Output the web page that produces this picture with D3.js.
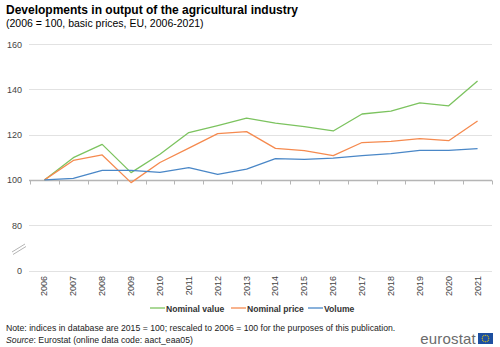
<!DOCTYPE html>
<html>
<head>
<meta charset="utf-8">
<script src="https://cdn.jsdelivr.net/npm/d3@7"></script>
<style>
body { margin: 0; background: #fff; }
text { font-family: "Liberation Sans", Arial, sans-serif; }
</style>
</head>
<body>
<svg width="500" height="347"></svg>
<script>
// data (2006 = 100)
var years = ["2006","2007","2008","2009","2010","2011","2012","2013","2014","2015","2016","2017","2018","2019","2020","2021"];
var nominalValue = [100, 109.8, 115.7, 103.2, 111.3, 120.9, 124.0, 127.3, 125.1, 123.5, 121.6, 129.1, 130.4, 134.0, 132.7, 143.7];
var nominalPrice = [100, 108.6, 111.0, 98.8, 107.7, 114.0, 120.4, 121.3, 113.9, 112.9, 110.7, 116.5, 117.0, 118.2, 117.3, 126.0];
var volume = [100, 100.7, 104.2, 104.2, 103.3, 105.4, 102.4, 104.8, 109.4, 109.1, 109.6, 110.7, 111.6, 113.0, 113.0, 113.8];
var yTicks = [160, 140, 120, 100, 80];

var series = [
    {name: "Nominal value", values: nominalValue, color: "#7cc35f"},
    {name: "Nominal price", values: nominalPrice, color: "#f58a4f"},
    {name: "Volume", values: volume, color: "#4a87c7"}
];

var svg = d3.select("svg");

var x = d3.scaleBand().domain(years).range([30, 492]);
// broken axis: the "0" line sits where 60 would be
var y = d3.scaleLinear().domain([60, 160]).range([270.5, 44]);

svg.append("text")
    .attr("x", 6).attr("y", 14)
    .attr("font-size", 12).attr("font-weight", "bold")
    .attr("fill", "#000")
    .text("Developments in output of the agricultural industry");
svg.append("text")
    .attr("x", 6).attr("y", 27)
    .attr("font-size", 10.5).attr("fill", "#000")
    .text("(2006 = 100, basic prices, EU, 2006-2021)");

// grid
var grid = svg.append("g");
grid.selectAll("line")
    .data(yTicks.filter(function(d) { return d != 100; }).concat([60]))
    .enter().append("line")
    .attr("x1", 29).attr("x2", 492)
    .attr("y1", function(d) { return Math.round(y(d)) + 0.5; })
    .attr("y2", function(d) { return Math.round(y(d)) + 0.5; })
    .attr("stroke", "#e2e2e2").attr("stroke-width", 1);

// y labels
svg.append("g").selectAll("text")
    .data(yTicks.concat([60]))
    .enter().append("text")
    .attr("x", 22).attr("y", function(d) { return y(d) + 3.5; })
    .attr("text-anchor", "end")
    .attr("font-size", 9).attr("fill", "#444")
    .text(function(d) { return d == 60 ? "0" : d; });

// break mark
var brk = svg.append("g").attr("stroke", "#aaa").attr("stroke-width", 0.9);
brk.append("line").attr("x1", 12).attr("y1", 252).attr("x2", 25).attr("y2", 244);
brk.append("line").attr("x1", 13).attr("y1", 254.5).attr("x2", 26).attr("y2", 246.5);

// base axis at 100
var y100 = Math.round(y(100)) + 0.5;
svg.append("line")
    .attr("x1", 29).attr("x2", 492)
    .attr("y1", y100).attr("y2", y100)
    .attr("stroke", "#b5b5b5").attr("stroke-width", 1.5);
svg.append("g").selectAll("line")
    .data(years.concat(["end"]))
    .enter().append("line")
    .attr("x1", function(d, i) { return Math.round(x.range()[0] + i * x.step()) + 0.5; })
    .attr("x2", function(d, i) { return Math.round(x.range()[0] + i * x.step()) + 0.5; })
    .attr("y1", y100).attr("y2", y100 + 4)
    .attr("stroke", "#b5b5b5").attr("stroke-width", 1);

// x labels
svg.append("g").selectAll("text")
    .data(years)
    .enter().append("text")
    .attr("transform", function(d) {
        return "translate(" + (x(d) + x.bandwidth() / 2 + 3) + ",276) rotate(-90)";
    })
    .attr("text-anchor", "end")
    .attr("font-size", 9).attr("fill", "#444")
    .text(function(d) { return d; });

// lines
var line = d3.line()
    .x(function(d, i) { return x(years[i]) + x.bandwidth() / 2; })
    .y(function(d) { return y(d); });

svg.append("g").selectAll("path")
    .data(series)
    .enter().append("path")
    .attr("d", function(d) { return line(d.values); })
    .attr("fill", "none")
    .attr("stroke", function(d) { return d.color; })
    .attr("stroke-width", 1.3)
    .attr("stroke-linejoin", "round");

// legend
var legX = [150, 231, 308];
var leg = svg.append("g").selectAll("g")
    .data(series)
    .enter().append("g")
    .attr("transform", function(d, i) { return "translate(" + legX[i] + ",308)"; });
leg.append("line")
    .attr("x1", 0).attr("x2", 15).attr("y1", 0).attr("y2", 0)
    .attr("stroke", function(d) { return d.color; }).attr("stroke-width", 1.3);
leg.append("text")
    .attr("x", 16).attr("y", 3.5)
    .attr("font-size", 8.6).attr("font-weight", "bold").attr("fill", "#333")
    .text(function(d) { return d.name; });

// notes
svg.append("text")
    .attr("x", 6).attr("y", 331)
    .attr("font-size", 8.7).attr("fill", "#222")
    .text("Note: indices in database are 2015 = 100; rescaled to 2006 = 100 for the purposes of this publication.");
var src = svg.append("text")
    .attr("x", 6).attr("y", 343)
    .attr("font-size", 8.7).attr("fill", "#222");
src.append("tspan").attr("font-style", "italic").text("Source");
src.append("tspan").text(": Eurostat (online data code: aact_eaa05)");

// logo
svg.append("text")
    .attr("x", 476).attr("y", 344)
    .attr("text-anchor", "end")
    .attr("font-size", 15).attr("fill", "#6b6b6b")
    .attr("letter-spacing", 0.2)
    .text("eurostat");
svg.append("rect")
    .attr("x", 478).attr("y", 333).attr("width", 15).attr("height", 11)
    .attr("fill", "#1d4fa0");
var stars = d3.range(12);
svg.append("g").selectAll("circle")
    .data(stars)
    .enter().append("circle")
    .attr("cx", function(d) { return 485.5 + 3.3 * Math.cos(d * Math.PI / 6); })
    .attr("cy", function(d) { return 338.5 + 3.3 * Math.sin(d * Math.PI / 6); })
    .attr("r", 0.55)
    .attr("fill", "#f5d400");
</script>
</body>
</html>
